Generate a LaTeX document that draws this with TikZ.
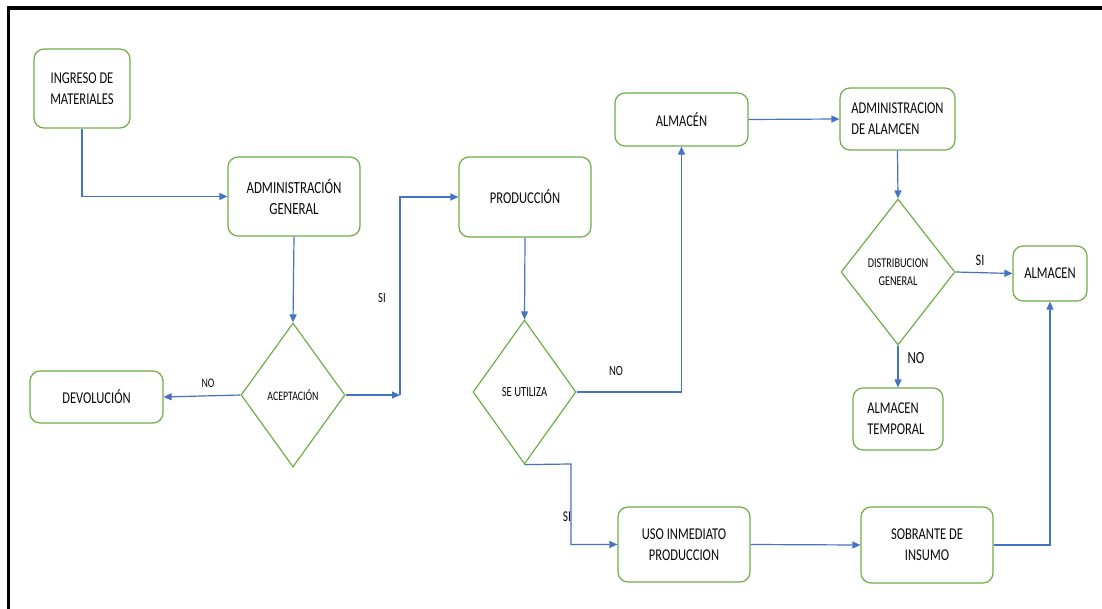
\documentclass[tikz,border=0pt]{standalone}
\usepackage{fontspec}
\setmainfont{Carlito}[FakeStretch=0.76]
\usetikzlibrary{arrows.meta,shapes.geometric}
\definecolor{boxgreen}{RGB}{112,173,71}
\definecolor{arrowblue}{RGB}{68,114,196}
\definecolor{txt}{RGB}{10,10,10}
\begin{document}
\begin{tikzpicture}[x=1pt,y=-1pt,
  box/.style={draw=boxgreen,line width=1.2pt,rounded corners=10pt,inner sep=0pt,
    align=center,text=txt,font=\fontsize{16.5}{21}\selectfont},
  dia/.style={draw=boxgreen,line width=1.2pt,diamond,inner sep=0pt},
  dtext/.style={text=txt,align=center,font=\fontsize{14}{18}\selectfont},
  lbl/.style={text=txt,font=\fontsize{14}{17}\selectfont},
  conn/.style={draw=arrowblue,line width=1.2pt},
  arr/.style={conn,-{Triangle[length=8pt,width=7pt]}}]
\useasboundingbox (0,0) rectangle (1102,609);
\fill[white] (0,0) rectangle (1102,609);
% frame
\draw[black,line width=3.5pt] (8.5,609) -- (8.5,8) -- (1102,8);

% boxes
\node[box,minimum width=96pt,minimum height=79pt] (ing) at (82,88.5) {INGRESO DE\\MATERIALES};
\node[box,minimum width=132pt,minimum height=79pt,font=\fontsize{17}{21}\selectfont] (admgen) at (294,196.5) {ADMINISTRACIÓN\\GENERAL};
\node[box,minimum width=133pt,minimum height=52pt] (devol) at (96.5,397) {DEVOLUCIÓN};
\node[box,minimum width=132pt,minimum height=80pt] (prod) at (525,197) {PRODUCCIÓN};
\node[box,minimum width=133pt,minimum height=53pt] (alm) at (681.5,119.5) {ALMACÉN};
\node[box,minimum width=115pt,minimum height=62pt,align=left] (admalm) at (897.5,119) {ADMINISTRACION\\DE ALAMCEN};
\node[box,minimum width=74pt,minimum height=55pt] (almr) at (1050,273.5) {ALMACEN};
\node[box,minimum width=90pt,minimum height=62pt,align=left] (almt) at (898,419) {ALMACEN\hspace*{10pt}\\TEMPORAL};
\node[box,minimum width=132pt,minimum height=75pt] (uso) at (684,544.5) {USO INMEDIATO\\PRODUCCION};
\node[box,minimum width=132pt,minimum height=76pt] (sob) at (927,545) {SOBRANTE DE\\INSUMO};

% diamonds
\node[dia,minimum width=104pt,minimum height=144pt] (acep) at (293,395) {};
\node[dtext,font=\fontsize{13}{17}\selectfont] (aceptxt) at (acep) {ACEPTACIÓN};
\node[dia,minimum width=103pt,minimum height=144pt] (seut) at (524.5,392) {};
\node[dtext] (seuttxt) at (seut) {SE UTILIZA};
\node[dia,minimum width=114pt,minimum height=146pt] (dist) at (898,272) {};
\node[dtext,font=\fontsize{13.5}{18}\selectfont] (disttxt) at (dist) {DISTRIBUCION\\GENERAL};

% connectors
\coordinate (c1) at (400,395);
\coordinate (c2) at (571,464);
\draw[arr] (ing.south) |- (admgen.west);
\draw[arr] (admgen.south) -- (acep.north);
\draw[arr] (acep.west) -- (devol.east);
\draw[arr] (acep.east) -- (c1);
\draw[arr] (c1) |- (prod.west);
\draw[arr] (prod.south) -- (seut.north);
\draw[arr] (seut.east) -| (alm.south);
\draw[arr] (alm.east) -- (admalm.west);
\draw[arr] (admalm.south) -- (dist.north);
\draw[arr] (dist.east) -- (almr.west);
\draw[arr] (dist.south) -- (almt.north);
\draw[arr] (seut.south) -- (c2) |- (uso.west);
\draw[arr] (uso.east) -- (sob.west);
\draw[arr] (sob.east) -| (almr.south);

% labels
\node[lbl,font=\fontsize{13}{16}\selectfont] (lno1) at (208,383) {NO};
\node[lbl] (lsi1) at (382,298) {SI};
\node[lbl] (lno2) at (616,371) {NO};
\node[lbl,font=\fontsize{15}{18}\selectfont] (lsi2) at (567,517) {SI};
\node[lbl,font=\fontsize{16}{19}\selectfont] (lsi3) at (980,260) {SI};
\node[lbl,font=\fontsize{17}{20}\selectfont] (lno3) at (916,358) {NO};
\end{tikzpicture}
\end{document}
